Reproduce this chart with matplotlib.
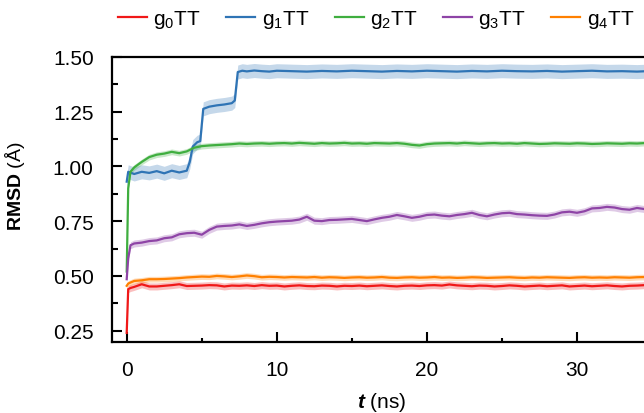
import numpy as np
import matplotlib
matplotlib.use("Agg")
import matplotlib.pyplot as plt
from matplotlib.ticker import MultipleLocator

plt.rcParams['font.family'] = ['Liberation Sans', 'DejaVu Sans']
plt.rcParams['mathtext.fontset'] = 'custom'
plt.rcParams['mathtext.rm'] = 'Liberation Sans'
plt.rcParams['mathtext.it'] = 'Liberation Sans:italic'
plt.rcParams['mathtext.bf'] = 'Liberation Sans:bold'
try:
    plt.rcParams['mathtext.bfit'] = 'Liberation Sans:italic:bold'
    HAS_BFIT = True
except KeyError:
    HAS_BFIT = False
plt.rcParams['mathtext.default'] = 'regular'

# ---------------- data ----------------
labels = ["g$_0$TT", "g$_1$TT", "g$_2$TT", "g$_3$TT", "g$_4$TT"]
colors = ["#f01818", "#2f74b5", "#3fae3f", "#8e44a6", "#ff8000"]

# common time grid (ns)
t_common = [0, 0.1, 0.25, 0.5, 1, 1.5, 2, 2.5, 3, 3.5, 4, 4.5, 5, 5.5, 6, 6.5, 7, 7.5,
            8, 8.5, 9, 9.5, 10, 10.5, 11, 11.5, 12, 12.5, 13, 13.5, 14, 14.5, 15, 15.5,
            16, 16.5, 17, 17.5, 18, 18.5, 19, 19.5, 20, 20.5, 21, 21.5, 22, 22.5, 23,
            23.5, 24, 24.5, 25, 25.5, 26, 26.5, 27, 27.5, 28, 28.5, 29, 29.5, 30, 30.5,
            31, 31.5, 32, 32.5, 33, 33.5, 34, 34.5, 35]

g0_rmsd = [0.24, 0.44, 0.445, 0.45, 0.462, 0.452, 0.452, 0.455, 0.458, 0.462, 0.454, 0.455,
           0.456, 0.458, 0.457, 0.452, 0.456, 0.455, 0.457, 0.454, 0.458, 0.455, 0.456,
           0.452, 0.455, 0.457, 0.454, 0.453, 0.456, 0.455, 0.452, 0.455, 0.454, 0.456,
           0.453, 0.455, 0.457, 0.454, 0.452, 0.455, 0.456, 0.454, 0.457, 0.458, 0.456,
           0.461, 0.457, 0.455, 0.453, 0.456, 0.455, 0.452, 0.454, 0.457, 0.455, 0.452,
           0.454, 0.456, 0.453, 0.455, 0.457, 0.452, 0.454, 0.456, 0.453, 0.455, 0.457,
           0.454, 0.452, 0.455, 0.456, 0.458, 0.462]

g2_rmsd = [0.52, 0.90, 0.975, 0.995, 1.02, 1.042, 1.053, 1.058, 1.066, 1.06, 1.068, 1.085,
           1.092, 1.095, 1.097, 1.099, 1.101, 1.104, 1.102, 1.104, 1.105, 1.103, 1.105,
           1.106, 1.104, 1.107, 1.105, 1.103, 1.106, 1.104, 1.105, 1.107, 1.104, 1.105,
           1.103, 1.106, 1.105, 1.104, 1.106, 1.103, 1.098, 1.095, 1.101, 1.104, 1.105,
           1.106, 1.104, 1.107, 1.105, 1.103, 1.105, 1.106, 1.104, 1.105, 1.103, 1.106,
           1.104, 1.102, 1.103, 1.105, 1.104, 1.103, 1.105, 1.104, 1.102, 1.103, 1.105,
           1.104, 1.103, 1.105, 1.104, 1.106, 1.105]

g3_rmsd = [0.485, 0.58, 0.64, 0.648, 0.652, 0.659, 0.662, 0.672, 0.676, 0.69, 0.695, 0.697,
           0.688, 0.71, 0.725, 0.728, 0.73, 0.735, 0.728, 0.733, 0.74, 0.745, 0.748, 0.75,
           0.752, 0.757, 0.77, 0.752, 0.75, 0.755, 0.756, 0.758, 0.76, 0.755, 0.75, 0.758,
           0.765, 0.77, 0.778, 0.772, 0.765, 0.77, 0.778, 0.78, 0.775, 0.772, 0.778, 0.782,
           0.788, 0.778, 0.772, 0.78, 0.786, 0.788, 0.782, 0.78, 0.777, 0.775, 0.774, 0.78,
           0.79, 0.793, 0.788, 0.795, 0.808, 0.81, 0.815, 0.812, 0.805, 0.802, 0.81, 0.805,
           0.80]

g4_rmsd = [0.455, 0.465, 0.47, 0.477, 0.48, 0.485, 0.485, 0.486, 0.488, 0.49, 0.493, 0.495,
           0.497, 0.496, 0.50, 0.498, 0.495, 0.498, 0.502, 0.499, 0.494, 0.496, 0.495,
           0.493, 0.495, 0.494, 0.493, 0.495, 0.492, 0.494, 0.493, 0.491, 0.493, 0.494,
           0.492, 0.493, 0.495, 0.492, 0.491, 0.493, 0.494, 0.492, 0.493, 0.495, 0.492,
           0.493, 0.491, 0.492, 0.494, 0.493, 0.491, 0.492, 0.493, 0.494, 0.492, 0.491,
           0.493, 0.492, 0.494, 0.493, 0.492, 0.491, 0.493, 0.494, 0.492, 0.493, 0.492,
           0.494, 0.493, 0.492, 0.494, 0.495, 0.494]

# g1 has its own time points because of the jumps
t_g1 = [0, 0.1, 0.5, 1, 1.5, 2, 2.5, 3, 3.5, 4.0, 4.2, 4.4, 4.7, 4.9, 5.1, 5.5, 6, 6.5,
        7.0, 7.2, 7.4, 7.7, 8, 8.5, 9, 9.5, 10, 11, 12, 13, 14, 15, 16, 17, 18, 19, 20,
        21, 22, 23, 24, 25, 26, 27, 28, 29, 30, 31, 32, 33, 34, 35]
g1_rmsd = [0.93, 0.975, 0.965, 0.975, 0.97, 0.978, 0.968, 0.98, 0.972, 0.98, 1.02, 1.09,
           1.11, 1.115, 1.262, 1.272, 1.278, 1.282, 1.288, 1.30, 1.43, 1.436, 1.433,
           1.437, 1.434, 1.432, 1.436, 1.434, 1.432, 1.435, 1.433, 1.436, 1.434, 1.432,
           1.435, 1.433, 1.436, 1.434, 1.432, 1.435, 1.433, 1.436, 1.434, 1.433, 1.435,
           1.432, 1.434, 1.436, 1.433, 1.434, 1.432, 1.435]

# half-width of the light fluctuation band of each trace
spread = [0.016, 0.032, 0.013, 0.016, 0.013]

series_t = [t_common, t_g1, t_common, t_common, t_common]
series_v = [g0_rmsd, g1_rmsd, g2_rmsd, g3_rmsd, g4_rmsd]

# ---------------- figure ----------------
W, H = 644, 414
fig = plt.figure(figsize=(W / 100, H / 100), dpi=100)
left, right, bottom, top = 111.7, 652, 342.7, 57.7
ax = fig.add_axes([left / W, 1 - bottom / H, (right - left) / W, (bottom - top) / H])

handles = []
for t, v, c, s, lab in zip(series_t, series_v, colors, spread, labels):
    t = np.asarray(t, float)
    v = np.asarray(v, float)
    ax.fill_between(t, v - s, v + s, color=c, alpha=0.28, lw=0)
    h, = ax.plot(t, v, color=c, lw=1.6, label=lab)
    handles.append(h)

ax.set_xlim(-1, 35)
ax.set_ylim(0.2, 1.5)
ax.xaxis.set_major_locator(MultipleLocator(10))
ax.xaxis.set_minor_locator(MultipleLocator(5))
ax.yaxis.set_major_locator(MultipleLocator(0.25))
ax.yaxis.set_minor_locator(MultipleLocator(0.125))
ax.yaxis.set_major_formatter(matplotlib.ticker.FormatStrFormatter('%.2f'))

for sp in ax.spines.values():
    sp.set_linewidth(1.6)
ax.tick_params(which='both', direction='in', top=False, right=False, width=1.5,
               labelsize=15, pad=13)
ax.tick_params(axis='x', which='major', length=7)
ax.tick_params(axis='x', which='minor', length=3)
ax.tick_params(axis='y', which='major', length=7)
ax.tick_params(axis='y', which='minor', length=4.5)

xlab = r"$\mathbfit{t}$ (ns)" if HAS_BFIT else r"$\mathbf{t}$ (ns)"
ax.set_xlabel(xlab, fontsize=15, labelpad=8)
ax.set_ylabel(r"$\mathbf{RMSD}$ (Å)", fontsize=14)
ax.yaxis.set_label_coords((27 - left) / (right - left), (bottom - 186) / (bottom - top))

fig.legend(handles=handles, loc='center', bbox_to_anchor=(376 / W, 1 - 20 / H),
           ncol=5, frameon=False, fontsize=15, handlelength=1.4, handletextpad=0.3,
           columnspacing=1.22)

fig.savefig("out.png", dpi=100)
